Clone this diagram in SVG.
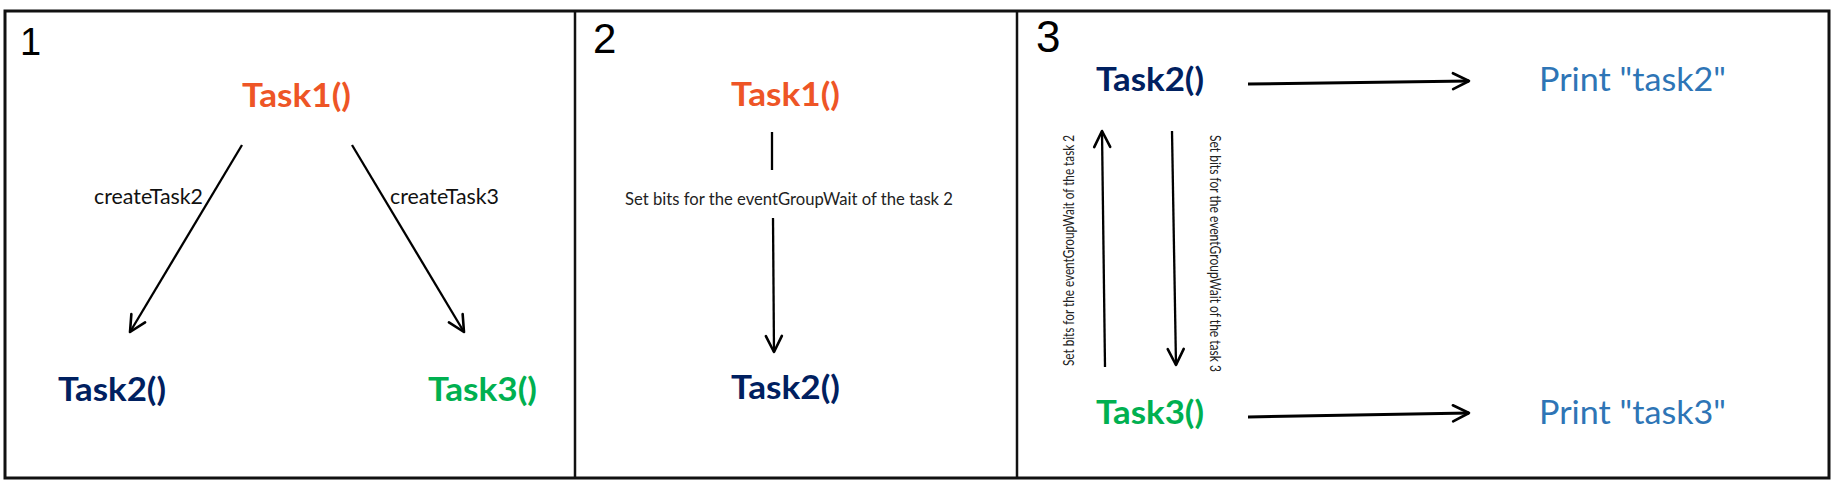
<svg xmlns="http://www.w3.org/2000/svg" width="1837" height="484" viewBox="0 0 1837 484">
<style>
.frame{fill:none;stroke:#111;stroke-width:3}
.div{stroke:#111;stroke-width:2.5}
.digit{font-family:"Liberation Sans",sans-serif;font-weight:normal;fill:#000}
.task{font-family:Lato,"Open Sans",sans-serif;font-weight:bold;font-size:32px}
.lbl{font-family:Lato,"Open Sans",sans-serif;font-size:21px;fill:#111}
.small{font-family:Lato,"Open Sans",sans-serif;fill:#222}
.print{font-family:Lato,"Open Sans",sans-serif;font-size:32px;fill:#2E75B6}
.t1{fill:#EE5526}
.t2{fill:#002060}
.t3{fill:#00B050}
.c{fill:none;stroke:#000;stroke-width:2.3}
.c3{fill:none;stroke:#000;stroke-width:3}
</style>
<defs>
<marker id="ah" markerUnits="userSpaceOnUse" markerWidth="40" markerHeight="40" viewBox="-20 -20 40 40" refX="0" refY="0" orient="auto" overflow="visible">
<path d="M-16,-8 L0,0 L-16,8" fill="none" stroke="#000" stroke-width="2.6" stroke-linecap="round" stroke-linejoin="round"/>
</marker>
</defs>
<rect width="1837" height="484" fill="#fff"/>
<g id="frame">
<rect class="frame" x="5" y="11" width="1824" height="467"/>
<line class="div" x1="575" y1="11" x2="575" y2="478"/>
<line class="div" x1="1017" y1="11" x2="1017" y2="478"/>
<text class="digit" x="20" y="55" font-size="38">1</text>
<text class="digit" x="593" y="53" font-size="42">2</text>
<text class="digit" x="1036" y="52" font-size="44">3</text>
</g>
<g id="connectors">
<line class="c" x1="242" y1="145" x2="130" y2="332" marker-end="url(#ah)"/>
<line class="c" x1="352" y1="145" x2="464" y2="332" marker-end="url(#ah)"/>
<line class="c" x1="772" y1="132" x2="772" y2="170"/>
<line class="c" x1="773" y1="218" x2="774" y2="352" marker-end="url(#ah)"/>
<line class="c3" x1="1248" y1="84" x2="1469" y2="81" marker-end="url(#ah)"/>
<line class="c3" x1="1248" y1="417" x2="1469" y2="413" marker-end="url(#ah)"/>
<line class="c" x1="1105" y1="367" x2="1102" y2="131" marker-end="url(#ah)"/>
<line class="c" x1="1172" y1="131" x2="1176" y2="365" marker-end="url(#ah)"/>
<text class="lbl" x="94" y="204" textLength="109" lengthAdjust="spacingAndGlyphs">createTask2</text>
<text class="lbl" x="390" y="204" textLength="109" lengthAdjust="spacingAndGlyphs">createTask3</text>
<text class="small" x="625" y="205" font-size="17" textLength="328" lengthAdjust="spacingAndGlyphs">Set bits for the eventGroupWait of the task 2</text>
<text class="small" transform="translate(1074,366) rotate(-90)" x="0" y="0" font-size="15" textLength="231" lengthAdjust="spacingAndGlyphs">Set bits for the eventGroupWait of the task 2</text>
<text class="small" transform="translate(1210,135) rotate(90)" x="0" y="0" font-size="15" textLength="237" lengthAdjust="spacingAndGlyphs">Set bits for the eventGroupWait of the task 3</text>
</g>
<g id="p1-task1"><text class="task t1" x="242" y="107" textLength="109" lengthAdjust="spacingAndGlyphs">Task1()</text></g>
<g id="p1-task2"><text class="task t2" x="58" y="401" textLength="108" lengthAdjust="spacingAndGlyphs">Task2()</text></g>
<g id="p1-task3"><text class="task t3" x="428" y="401" textLength="109" lengthAdjust="spacingAndGlyphs">Task3()</text></g>
<g id="p2-task1"><text class="task t1" x="731" y="106" textLength="109" lengthAdjust="spacingAndGlyphs">Task1()</text></g>
<g id="p2-task2"><text class="task t2" x="731" y="399" textLength="109" lengthAdjust="spacingAndGlyphs">Task2()</text></g>
<g id="p3-task2"><text class="task t2" x="1096" y="91" textLength="108" lengthAdjust="spacingAndGlyphs">Task2()</text></g>
<g id="p3-task3"><text class="task t3" x="1096" y="424" textLength="108" lengthAdjust="spacingAndGlyphs">Task3()</text></g>
<g id="p3-print2"><text class="print" x="1539" y="91" textLength="187" lengthAdjust="spacingAndGlyphs">Print "task2"</text></g>
<g id="p3-print3"><text class="print" x="1539" y="424" textLength="187" lengthAdjust="spacingAndGlyphs">Print "task3"</text></g>
</svg>
